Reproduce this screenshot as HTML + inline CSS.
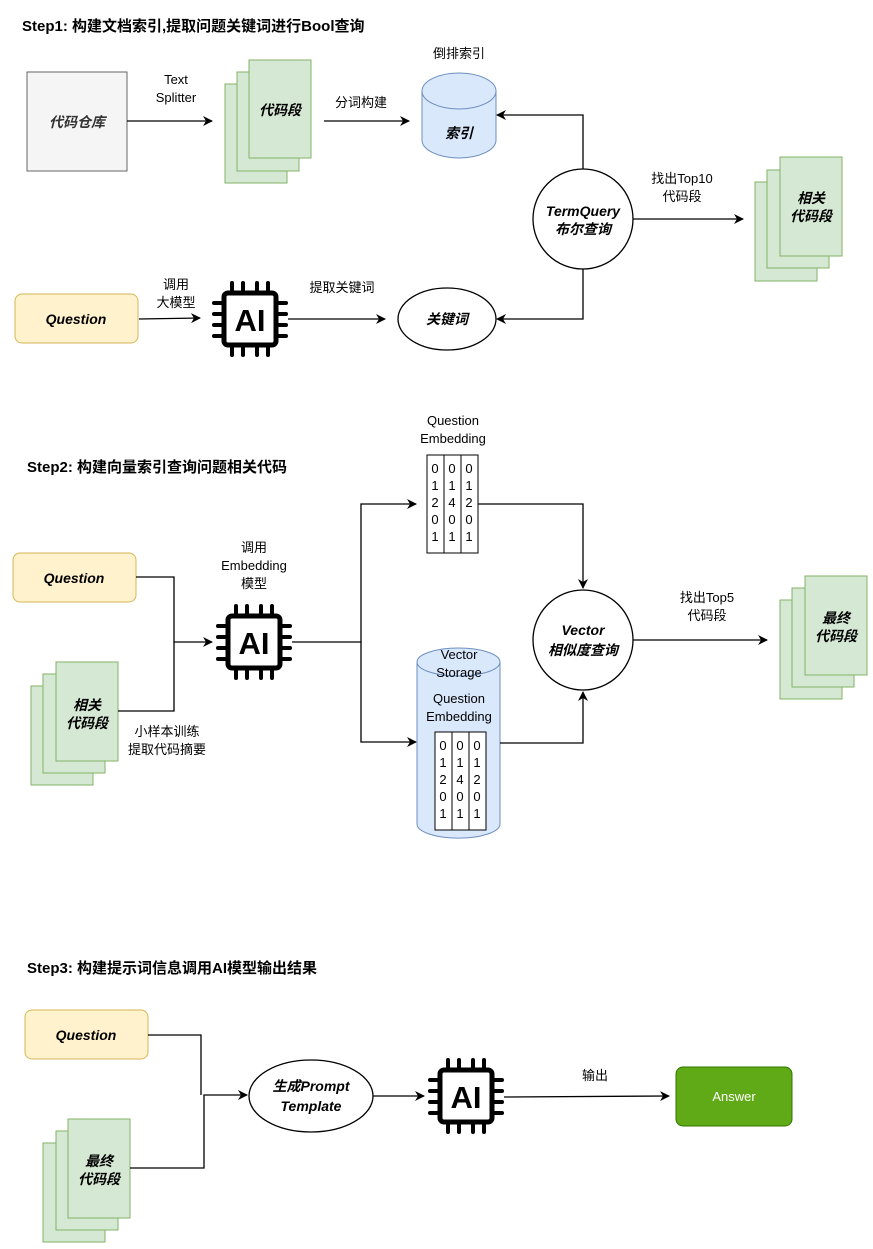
<!DOCTYPE html>
<html><head><meta charset="utf-8"><style>
html,body{margin:0;padding:0;background:#fff}
svg{display:block}
text{font-family:"Liberation Sans","Noto Sans CJK SC",sans-serif;font-size:13px;fill:#000}
.t{font-weight:bold;font-size:15px}
.bi{font-weight:bold;font-style:italic;font-size:14px}
.c{text-anchor:middle}
</style></head><body>
<svg width="873" height="1249" viewBox="0 0 873 1249" xmlns="http://www.w3.org/2000/svg">
<defs>
<marker id="a" markerWidth="10" markerHeight="10" refX="9" refY="5" orient="auto" markerUnits="userSpaceOnUse">
<path d="M0,0 L10,5 L0,10 L3,5 Z" fill="#000"/></marker>
<g id="chip">
<rect x="-26" y="-26" width="52" height="52" rx="4" fill="#fff" stroke="#000" stroke-width="5"/>
<g fill="#000">
<rect x="-20" y="-38" width="4" height="12" rx="2"/><rect x="-9" y="-38" width="4" height="12" rx="2"/><rect x="5" y="-38" width="4" height="12" rx="2"/><rect x="16" y="-38" width="4" height="12" rx="2"/>
<rect x="-20" y="26" width="4" height="12" rx="2"/><rect x="-9" y="26" width="4" height="12" rx="2"/><rect x="5" y="26" width="4" height="12" rx="2"/><rect x="16" y="26" width="4" height="12" rx="2"/>
<rect x="-38" y="-18" width="12" height="4" rx="2"/><rect x="-38" y="-7" width="12" height="4" rx="2"/><rect x="-38" y="4" width="12" height="4" rx="2"/><rect x="-38" y="15" width="12" height="4" rx="2"/>
<rect x="26" y="-18" width="12" height="4" rx="2"/><rect x="26" y="-7" width="12" height="4" rx="2"/><rect x="26" y="4" width="12" height="4" rx="2"/><rect x="26" y="15" width="12" height="4" rx="2"/>
</g>
</g>
</defs>
<g stroke="#000" stroke-width="1.3" fill="none">
</g>

<!-- STEP 1 -->
<text x="22" y="31" class="t">Step1: 构建文档索引,提取问题关键词进行Bool查询</text>
<rect x="27" y="72" width="100" height="99" fill="#f5f5f5" stroke="#666"/>
<text x="77" y="127" class="bi c" fill="#333" style="fill:#333">代码仓库</text>
<line x1="127" y1="121" x2="212" y2="121" stroke="#000" stroke-width="1.3" marker-end="url(#a)"/>
<text x="176" y="84" class="c">Text</text><text x="176" y="102" class="c">Splitter</text>
<rect x="225" y="84" width="62" height="99" fill="#d5e8d4" stroke="#82b366"/>
<rect x="237" y="72" width="62" height="99" fill="#d5e8d4" stroke="#82b366"/>
<rect x="249" y="60" width="62" height="98" fill="#d5e8d4" stroke="#82b366"/>
<text x="280" y="115" class="bi c">代码段</text>
<line x1="324" y1="121" x2="409" y2="121" stroke="#000" stroke-width="1.3" marker-end="url(#a)"/>
<text x="361" y="107" class="c">分词构建</text>
<text x="459" y="58" class="c">倒排索引</text>
<path d="M422,91 L422,140 A37,18 0 0 0 496,140 L496,91" fill="#dae8fc" stroke="#6c8ebf"/>
<ellipse cx="459" cy="91" rx="37" ry="18" fill="#dae8fc" stroke="#6c8ebf"/>
<text x="459" y="138" class="bi c">索引</text>
<circle cx="583" cy="219" r="50" fill="#fff" stroke="#000" stroke-width="1.3"/>
<text x="583" y="216" class="bi c">TermQuery</text><text x="583" y="234" class="bi c">布尔查询</text>
<polyline points="583,169 583,115 497,115" fill="none" stroke="#000" stroke-width="1.3" marker-end="url(#a)"/>
<polyline points="583,269 583,319 497,319" fill="none" stroke="#000" stroke-width="1.3" marker-end="url(#a)"/>
<line x1="633" y1="219" x2="743" y2="219" stroke="#000" stroke-width="1.3" marker-end="url(#a)"/>
<text x="682" y="183" class="c">找出Top10</text><text x="682" y="201" class="c">代码段</text>
<rect x="755" y="182" width="62" height="99" fill="#d5e8d4" stroke="#82b366"/>
<rect x="767" y="170" width="62" height="98" fill="#d5e8d4" stroke="#82b366"/>
<rect x="780" y="157" width="62" height="99" fill="#d5e8d4" stroke="#82b366"/>
<text x="811" y="203" class="bi c">相关</text><text x="811" y="221" class="bi c">代码段</text>
<rect x="15" y="294" width="123" height="49" rx="7" fill="#fff2cc" stroke="#d6b656"/>
<text x="76" y="324" class="bi c">Question</text>
<line x1="139" y1="319" x2="200" y2="318" stroke="#000" stroke-width="1.3" marker-end="url(#a)"/>
<text x="176" y="289" class="c">调用</text><text x="176" y="307" class="c">大模型</text>
<use href="#chip" x="250" y="319"/>
<text x="250" y="331" class="c" style="font-weight:bold;font-size:31px">AI</text>
<line x1="288" y1="319" x2="385" y2="319" stroke="#000" stroke-width="1.3" marker-end="url(#a)"/>
<text x="342" y="292" class="c">提取关键词</text>
<ellipse cx="447" cy="319" rx="49" ry="31" fill="#fff" stroke="#000" stroke-width="1.3"/>
<text x="447" y="324" class="bi c">关键词</text>

<!-- STEP 2 -->
<text x="27" y="472" class="t">Step2: 构建向量索引查询问题相关代码</text>
<rect x="13" y="553" width="123" height="49" rx="7" fill="#fff2cc" stroke="#d6b656"/>
<text x="74" y="583" class="bi c">Question</text>
<rect x="31" y="686" width="62" height="99" fill="#d5e8d4" stroke="#82b366"/>
<rect x="43" y="674" width="62" height="99" fill="#d5e8d4" stroke="#82b366"/>
<rect x="56" y="662" width="62" height="99" fill="#d5e8d4" stroke="#82b366"/>
<text x="87" y="710" class="bi c">相关</text><text x="87" y="728" class="bi c">代码段</text>
<polyline points="136,577 174,577 174,642" fill="none" stroke="#000" stroke-width="1.3"/>
<polyline points="118,711 174,711 174,642 212,642" fill="none" stroke="#000" stroke-width="1.3" marker-end="url(#a)"/>
<text x="167" y="736" class="c">小样本训练</text><text x="167" y="754" class="c">提取代码摘要</text>
<text x="254" y="552" class="c">调用</text><text x="254" y="570" class="c">Embedding</text><text x="254" y="588" class="c">模型</text>
<use href="#chip" x="254" y="642"/>
<text x="254" y="654" class="c" style="font-weight:bold;font-size:31px">AI</text>
<polyline points="292,642 361,642 361,504 416,504" fill="none" stroke="#000" stroke-width="1.3" marker-end="url(#a)"/>
<polyline points="361,642 361,742 416,742" fill="none" stroke="#000" stroke-width="1.3" marker-end="url(#a)"/>
<text x="453" y="425" class="c">Question</text><text x="453" y="443" class="c">Embedding</text>
<g stroke="#000" fill="#fff"><rect x="427" y="455" width="17" height="98"/><rect x="444" y="455" width="17" height="98"/><rect x="461" y="455" width="17" height="98"/></g>
<text x="435" y="473" class="c">0</text><text x="435" y="490" class="c">1</text><text x="435" y="507" class="c">2</text><text x="435" y="524" class="c">0</text><text x="435" y="541" class="c">1</text>
<text x="452" y="473" class="c">0</text><text x="452" y="490" class="c">1</text><text x="452" y="507" class="c">4</text><text x="452" y="524" class="c">0</text><text x="452" y="541" class="c">1</text>
<text x="469" y="473" class="c">0</text><text x="469" y="490" class="c">1</text><text x="469" y="507" class="c">2</text><text x="469" y="524" class="c">0</text><text x="469" y="541" class="c">1</text>
<polyline points="478,504 583,504 583,588" fill="none" stroke="#000" stroke-width="1.3" marker-end="url(#a)"/>
<circle cx="583" cy="640" r="50" fill="#fff" stroke="#000" stroke-width="1.3"/>
<text x="583" y="635" class="bi c">Vector</text><text x="583" y="655" class="bi c">相似度查询</text>
<path d="M417,662 L417,824 A41,14 0 0 0 500,824 L500,662" fill="#dae8fc" stroke="#6c8ebf"/>
<ellipse cx="458.5" cy="662" rx="41.5" ry="14" fill="#dae8fc" stroke="#6c8ebf"/>
<text x="459" y="659" class="c">Vector</text><text x="459" y="677" class="c">Storage</text>
<text x="459" y="703" class="c">Question</text><text x="459" y="721" class="c">Embedding</text>
<g stroke="#000" fill="#fff"><rect x="435" y="732" width="17" height="98"/><rect x="452" y="732" width="17" height="98"/><rect x="469" y="732" width="17" height="98"/></g>
<text x="443" y="750" class="c">0</text><text x="443" y="767" class="c">1</text><text x="443" y="784" class="c">2</text><text x="443" y="801" class="c">0</text><text x="443" y="818" class="c">1</text>
<text x="460" y="750" class="c">0</text><text x="460" y="767" class="c">1</text><text x="460" y="784" class="c">4</text><text x="460" y="801" class="c">0</text><text x="460" y="818" class="c">1</text>
<text x="477" y="750" class="c">0</text><text x="477" y="767" class="c">1</text><text x="477" y="784" class="c">2</text><text x="477" y="801" class="c">0</text><text x="477" y="818" class="c">1</text>
<polyline points="500,743 583,743 583,692" fill="none" stroke="#000" stroke-width="1.3" marker-end="url(#a)"/>
<line x1="633" y1="640" x2="767" y2="640" stroke="#000" stroke-width="1.3" marker-end="url(#a)"/>
<text x="707" y="602" class="c">找出Top5</text><text x="707" y="620" class="c">代码段</text>
<rect x="780" y="600" width="62" height="99" fill="#d5e8d4" stroke="#82b366"/>
<rect x="792" y="588" width="62" height="99" fill="#d5e8d4" stroke="#82b366"/>
<rect x="805" y="576" width="62" height="99" fill="#d5e8d4" stroke="#82b366"/>
<text x="836" y="623" class="bi c">最终</text><text x="836" y="641" class="bi c">代码段</text>

<!-- STEP 3 -->
<text x="27" y="973" class="t">Step3: 构建提示词信息调用AI模型输出结果</text>
<rect x="25" y="1010" width="123" height="49" rx="7" fill="#fff2cc" stroke="#d6b656"/>
<text x="86" y="1040" class="bi c">Question</text>
<rect x="43" y="1143" width="62" height="99" fill="#d5e8d4" stroke="#82b366"/>
<rect x="56" y="1131" width="62" height="99" fill="#d5e8d4" stroke="#82b366"/>
<rect x="68" y="1119" width="62" height="99" fill="#d5e8d4" stroke="#82b366"/>
<text x="99" y="1166" class="bi c">最终</text><text x="99" y="1184" class="bi c">代码段</text>
<polyline points="148,1035 201,1035 201,1095" fill="none" stroke="#000" stroke-width="1.3"/>
<polyline points="130,1168 204,1168 204,1095 247,1095" fill="none" stroke="#000" stroke-width="1.3" marker-end="url(#a)"/>
<ellipse cx="311" cy="1096" rx="62" ry="36" fill="#fff" stroke="#000" stroke-width="1.3"/>
<text x="311" y="1091" class="bi c">生成Prompt</text><text x="311" y="1111" class="bi c">Template</text>
<line x1="373" y1="1096" x2="424" y2="1096" stroke="#000" stroke-width="1.3" marker-end="url(#a)"/>
<use href="#chip" x="466" y="1096"/>
<text x="466" y="1108" class="c" style="font-weight:bold;font-size:31px">AI</text>
<line x1="504" y1="1097" x2="669" y2="1096" stroke="#000" stroke-width="1.3" marker-end="url(#a)"/>
<text x="595" y="1080" class="c">输出</text>
<rect x="676" y="1067" width="116" height="59" rx="7" fill="#60a917" stroke="#2d7600"/>
<text x="734" y="1101" class="c" style="fill:#fff;font-size:13px">Answer</text>
</svg>
</body></html>
